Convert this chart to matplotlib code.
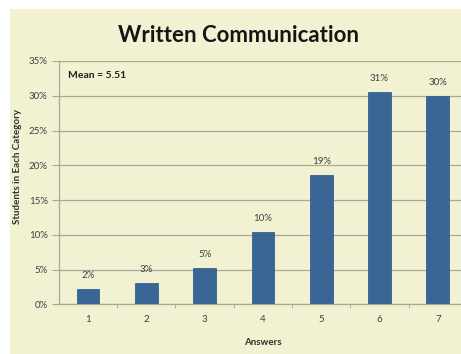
import matplotlib.pyplot as plt
from matplotlib.patches import Rectangle
from matplotlib.ticker import FuncFormatter, FixedLocator

# Share of students giving each answer (percent)
answers = [1, 2, 3, 4, 5, 6, 7]
shares = [2.2, 3.1, 5.2, 10.4, 18.6, 30.6, 29.9]
mean_text = "Mean = 5.51"

plt.rcParams['font.family'] = ['Lato', 'DejaVu Sans']

W, H = 461, 354
fig = plt.figure(figsize=(W / 100, H / 100), dpi=100, facecolor='white')

# cream panel behind the chart
fig.patches.append(Rectangle((10 / W, 0), 1, 1 - 9 / H, transform=fig.transFigure,
                             facecolor='#f2f2d3', edgecolor='none', zorder=-1))

ax = fig.add_axes([58.8 / W, (H - 304.3) / H, (467 - 58.8) / W, (304.3 - 61) / H])
ax.set_facecolor('none')

bars = ax.bar(answers, shares, width=0.39, color='#3a6696', edgecolor='#35618f',
              linewidth=0.6, zorder=3)

for x, v in zip(answers, shares):
    ax.text(x, v + 1.3, f"{v:.0f}%", ha='center', va='bottom', fontsize=7,
            color='#404040', zorder=4)

ax.set_xlim(0.5, 7.5)
ax.set_ylim(0, 35)
ax.set_yticks(range(0, 36, 5))
ax.yaxis.set_major_formatter(FuncFormatter(lambda v, p: f"{v:.0f}%"))
ax.grid(axis='y', color='#a8a898', linewidth=0.9, zorder=1)

# category labels centred, tick marks on the boundaries
ax.set_xticks(answers)
ax.tick_params(axis='x', which='major', length=0, pad=8, labelsize=7, labelcolor='#404040')
ax.xaxis.set_minor_locator(FixedLocator([1.5, 2.5, 3.5, 4.5, 5.5, 6.5]))
ax.tick_params(axis='x', which='minor', length=3, color='#a8a898', direction='out')
ax.tick_params(axis='y', length=5, color='#a8a898', pad=3, labelsize=7, labelcolor='#404040')

for side in ['top', 'right']:
    ax.spines[side].set_visible(False)
for side in ['left', 'bottom']:
    ax.spines[side].set_color('#a8a898')
    ax.spines[side].set_linewidth(0.9)

ax.set_xlabel('Answers', fontsize=7, fontweight='bold', color='#303030', labelpad=10)
fig.text(18 / W, 1 - 166 / H, 'Students in Each Category', rotation=90, ha='center',
         va='center', fontsize=7, fontweight='bold', color='#303030')

fig.text(238 / W, 1 - 36 / H, 'Written Communication', ha='center', va='center',
         fontsize=16, fontweight='bold', color='#151515')
fig.text(68 / W, 1 - 75 / H, mean_text, ha='left', va='center', fontsize=7.5,
         fontweight='bold', color='#202020')

fig.savefig('out.png', dpi=100, facecolor=fig.get_facecolor())
